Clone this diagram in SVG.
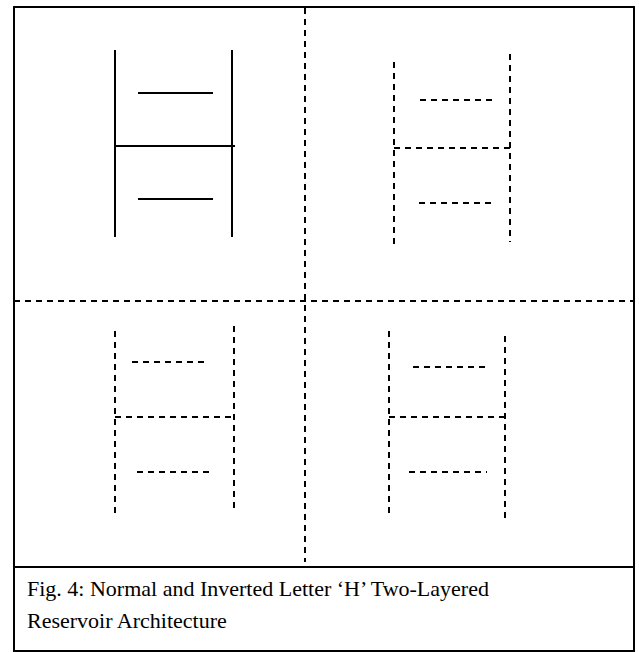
<svg xmlns="http://www.w3.org/2000/svg" width="639" height="652" viewBox="0 0 639 652">
<style>
.frame{fill:none;stroke:#000;stroke-width:2}
.solid{stroke:#000;stroke-width:2;fill:none}
.dash{stroke:#000;stroke-width:2;fill:none;stroke-dasharray:6 5}
.cap{font-family:"Liberation Serif","Times New Roman",serif;font-size:22px;fill:#000}
</style>
<rect width="639" height="652" fill="#fff"/>
<g id="frame">
<rect class="frame" x="14" y="7" width="620" height="644"/>
<line class="frame" x1="14" y1="567" x2="634" y2="567"/>
</g>
<g id="dividers">
<line class="dash" x1="305" y1="8" x2="305" y2="562"/>
<line class="dash" x1="14" y1="301" x2="634" y2="301"/>
</g>
<g id="h-normal-solid">
<line class="solid" x1="115" y1="50" x2="115" y2="237"/>
<line class="solid" x1="232" y1="50" x2="232" y2="237"/>
<line class="solid" x1="138" y1="93" x2="213" y2="93"/>
<line class="solid" x1="115" y1="146" x2="235" y2="146"/>
<line class="solid" x1="138" y1="199" x2="213" y2="199"/>
</g>
<g id="h-top-right">
<line class="dash" x1="394" y1="62" x2="394" y2="248"/>
<line class="dash" x1="510" y1="54" x2="510" y2="242"/>
<line class="dash" x1="420" y1="100" x2="497" y2="100"/>
<line class="dash" x1="394" y1="148" x2="513" y2="148"/>
<line class="dash" x1="419" y1="203" x2="495" y2="203"/>
</g>
<g id="h-bottom-left">
<line class="dash" x1="115" y1="331" x2="115" y2="518"/>
<line class="dash" x1="234" y1="326" x2="234" y2="513"/>
<line class="dash" x1="132" y1="362" x2="209" y2="362"/>
<line class="dash" x1="115" y1="417" x2="234" y2="417"/>
<line class="dash" x1="137" y1="472" x2="214" y2="472"/>
</g>
<g id="h-bottom-right">
<line class="dash" x1="389" y1="331" x2="389" y2="518"/>
<line class="dash" x1="505" y1="336" x2="505" y2="523"/>
<line class="dash" x1="413" y1="367" x2="490" y2="367"/>
<line class="dash" x1="389" y1="417" x2="508" y2="417"/>
<line class="dash" x1="409" y1="472" x2="487" y2="472"/>
</g>
<g id="caption">
<text class="cap" x="27" y="596">Fig. 4: Normal and Inverted Letter ‘H’ Two-Layered</text>
<text class="cap" x="27" y="628">Reservoir Architecture</text>
</g>
</svg>
